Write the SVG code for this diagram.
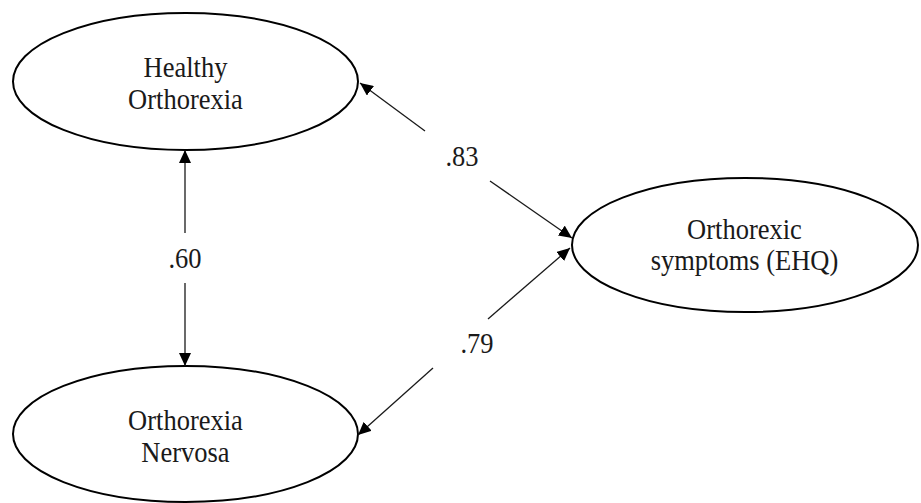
<svg xmlns="http://www.w3.org/2000/svg" width="921" height="503" viewBox="0 0 921 503">
  <style>
    .node { fill: #ffffff; stroke: #000000; stroke-width: 2; }
    .lbl { font-size: 26.5px; fill: #1a1a1a; text-anchor: middle; }
    .conn { stroke: #1a1a1a; stroke-width: 1.3; fill: none; }
    .arr { marker-end: url(#ah); }
  </style>
  <defs>
    <marker id="ah" markerUnits="userSpaceOnUse" markerWidth="14" markerHeight="12" refX="13" refY="6" orient="auto">
      <path d="M0,0 L13,6 L0,12 Z" fill="#000000"/>
    </marker>
  </defs>
  <rect width="921" height="503" fill="#ffffff"/>

  <g font-family="Liberation Serif, Tinos, DejaVu Serif, Times New Roman, serif">
  <g id="healthy-orthorexia">
    <ellipse class="node" cx="185.5" cy="81.5" rx="172.5" ry="68.5"/>
    <text class="lbl" transform="translate(185.5,77) scale(1,1.15)">Healthy</text>
    <text class="lbl" transform="translate(185.5,109) scale(1,1.15)">Orthorexia</text>
  </g>

  <g id="orthorexia-nervosa">
    <ellipse class="node" cx="185.5" cy="434" rx="172.5" ry="68"/>
    <text class="lbl" transform="translate(185.5,430) scale(1,1.15)">Orthorexia</text>
    <text class="lbl" transform="translate(185.5,462) scale(1,1.15)">Nervosa</text>
  </g>

  <g id="orthorexic-symptoms">
    <ellipse class="node" cx="745" cy="245" rx="173" ry="67"/>
    <text class="lbl" transform="translate(744.5,239) scale(1,1.15)">Orthorexic</text>
    <text class="lbl" transform="translate(744.5,270) scale(1,1.15)">symptoms (EHQ)</text>
  </g>

  <g id="connectors">
    <path class="conn arr" d="M185,233 L185,150"/>
    <path class="conn arr" d="M185,283 L185,366"/>
    <text class="lbl" transform="translate(185,268) scale(1,1.15)">.60</text>
    <path class="conn arr" d="M425,131 L360,83"/>
    <path class="conn arr" d="M490,181 L572,238"/>
    <text class="lbl" transform="translate(462,166) scale(1,1.15)">.83</text>
    <path class="conn arr" d="M488,319 L570,248"/>
    <path class="conn arr" d="M433,368 L358,435"/>
    <text class="lbl" transform="translate(477,353) scale(1,1.15)">.79</text>
  </g>
  </g>
</svg>
